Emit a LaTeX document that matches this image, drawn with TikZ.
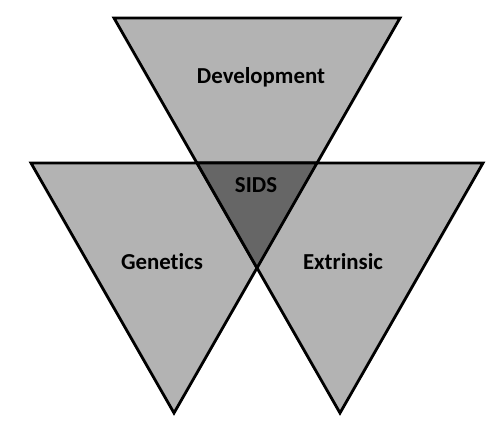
\documentclass[tikz,border=0pt]{standalone}
\usepackage{fontspec}
\setsansfont{Carlito}[Ligatures=NoCommon]
\usetikzlibrary{positioning}
\definecolor{lightgr}{HTML}{B3B3B3}
\definecolor{darkgr}{HTML}{666666}

\begin{document}
\begin{tikzpicture}[
x=0.02cm,y=-0.02cm,
tri/.style={
  draw=black,
  fill=lightgr,
  line width=1.6pt,
  line join=miter
},
core/.style={
  draw=black,
  fill=darkgr,
  line width=1.6pt,
  line join=miter
},
lbl/.style={
  font=\sffamily\bfseries\fontsize{13}{15}\selectfont
}
]
\useasboundingbox (0,0) rectangle (501,436);

% shared meeting point of the three triangles
\coordinate (p) at (257,268);
% top triangle
\coordinate (ta) at (114,18);
\coordinate (tb) at (400,18);
% left triangle
\coordinate (la) at (31,163);
\coordinate (lb) at (317,163);
\coordinate (lc) at (174,413);
% right triangle
\coordinate (ra) at (197,163);
\coordinate (rb) at (483,163);
\coordinate (rc) at (340,413);

\draw[tri] (ta) -- (tb) -- (p) -- cycle;
\draw[tri] (la) -- (lb) -- (lc) -- cycle;
\draw[tri] (ra) -- (rb) -- (rc) -- cycle;
\draw[core] (ra) -- (lb) -- (p) -- cycle;

\node[lbl] (dev) at (261,77) {Development};
\node[lbl] (sids) at (256,185) {SIDS};
\node[lbl] (gen) at (162,262) {Genetics};
\node[lbl] (ext) at (343,262) {Extrinsic};
\end{tikzpicture}
\end{document}
